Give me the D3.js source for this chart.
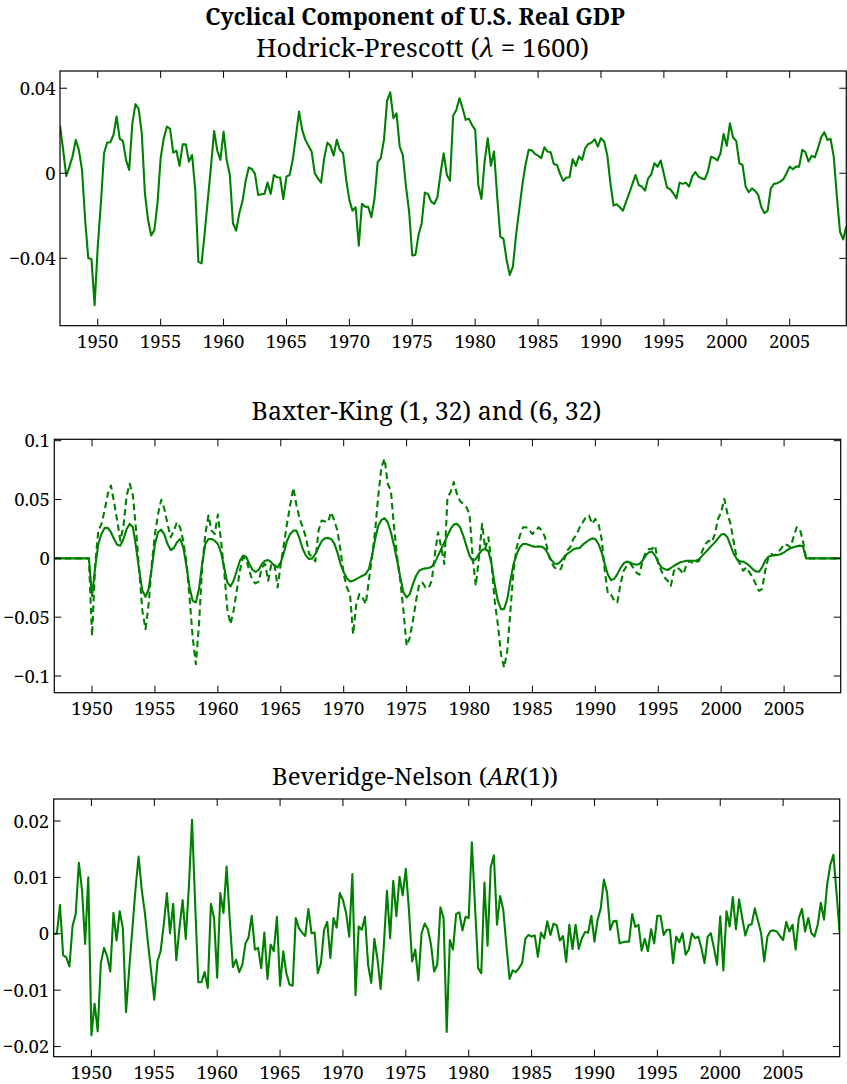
<!DOCTYPE html>
<html><head><meta charset="utf-8">
<script src="https://cdn.jsdelivr.net/npm/d3@7"></script>
<style>body{margin:0;background:#fff}svg{display:block}</style>
</head><body><svg id="chart" width="847" height="1084"></svg>
<script>
// ---------------- DATA (quarterly, 1947Q1 .. 2009Q3) ----------------
const firstYear = 1947;
const hpCycle = [
 0.0224,0.011,-0.0013,0.0031, 0.008,0.0157,0.011,0.0016, -0.022,-0.040,-0.0403,-0.062,
 -0.0345,-0.0141,0.0094,0.0144, 0.0146,0.018,0.0267,0.0162, 0.0152,0.0063,0.0016,0.0235,
 0.0325,0.0303,0.0188,-0.0094, -0.022,-0.0293,-0.0267,-0.0141, 0.0071,0.0165,0.022,0.0209,
 0.0097,0.0107,0.0035,0.0136, 0.0136,0.0055,0.0086,-0.0078, -0.0417,-0.0424,-0.0282,-0.0125,
 0.0031,0.0199,0.0107,0.0063, 0.0196,0.0063,-0.0008,-0.0235, -0.027,-0.0188,-0.0133,-0.0039,
 0.0027,0.002,-0.0003,-0.0102, -0.0099,-0.0097,-0.0044,-0.0097, -0.0008,-0.0019,-0.002,-0.0122,
 -0.0016,-0.0008,0.0063,0.0173, 0.029,0.0204,0.0157,0.0129, 0.0102,0,-0.0024,-0.0044,
 0.0071,0.0144,0.0129,0.0083, 0.0157,0.011,0.0094,-0.0031, -0.0125,-0.0176,-0.016,-0.034,
 -0.0144,-0.0157,-0.0158,-0.0207, -0.0118,0.0052,0.0071,0.0157, 0.0342,0.0381,0.0259,0.0282,
 0.0125,0.0086,-0.0063,-0.018, -0.0387,-0.0384,-0.029,-0.0235, -0.0091,-0.0097,-0.0133,-0.0144,
 -0.0113,0,0.0094,-0.0008, -0.0035,0.0271,0.0298,0.0353, 0.0306,0.0251,0.0257,0.0227,
 0.0204,-0.0055,-0.0121,0.0055, 0.0165,0.0035,0.0102,-0.011, -0.0298,-0.0309,-0.0408,-0.0478,
 -0.0439,-0.029,-0.0173,-0.0055, 0.0039,0.011,0.0108,0.0091, 0.0083,0.0071,0.0122,0.0102,
 0.0099,0.0044,0.0039,-0.0003, -0.0036,-0.002,-0.0019,0.0066, 0.0035,0.008,0.0063,0.0118,
 0.0138,0.0144,0.016,0.0125, 0.0165,0.0149,0.0086,-0.0047, -0.0152,-0.0146,-0.016,-0.0176,
 -0.0133,-0.0094,-0.005,-0.0008, -0.0055,-0.0063,-0.0082,-0.0024, -0.0005,0.0047,0.0031,0.006,
 -0.0003,-0.0067,-0.0075,-0.0094, -0.0118,-0.0044,-0.005,-0.0044, -0.0063,-0.0016,0.0006,-0.0016,
 -0.0024,-0.0028,0.0008,0.0078, 0.0072,0.006,0.0094,0.0185, 0.0129,0.0235,0.0168,0.0152,
 0.0047,0.0039,-0.0063,-0.0089, -0.0071,-0.0083,-0.0102,-0.016, -0.0188,-0.0176,-0.0071,-0.005,
 -0.0047,-0.0039,-0.0028,0, 0.0031,0.0019,0.0031,0.0031, 0.011,0.0099,0.0055,0.0082,
 0.0075,0.0118,0.0169,0.0193, 0.0157,0.0162,0.0078,-0.011, -0.0275,-0.0311,-0.0251
];
const bk632 = [
 0,0,0,0, 0,0,0,0, 0,0,0,0,
 -0.032,-0.0077,0.0122,0.0207, 0.0259,0.0259,0.0222,0.0165, 0.0116,0.0108,0.0165,0.025,
 0.0293,0.0264,0.0094,-0.0105, -0.0276,-0.0327,-0.0261,-0.0077, 0.0122,0.0222,0.0244,0.0202,
 0.0122,0.0071,0.0088,0.0136, 0.0165,0.0094,-0.0063,-0.0247, -0.0361,-0.0375,-0.0261,-0.0048,
 0.0122,0.0165,0.0165,0.015, 0.0122,0.0051,-0.0077,-0.0205, -0.0239,-0.019,-0.0105,-0.002,
 0.0023,0.0014,-0.0048,-0.0097, -0.0116,-0.0097,-0.0048,-0.002, -0.0014,-0.0034,-0.0063,-0.0077,
 -0.0034,0.0051,0.015,0.0207, 0.0236,0.0236,0.0165,0.008, 0.0023,-0.0006,0,0.0037,
 0.0094,0.0145,0.017,0.0173, 0.0165,0.0128,0.0051,-0.0048, -0.0119,-0.017,-0.0196,-0.019,
 -0.0176,-0.0162,-0.0148,-0.0134, -0.0091,0.0023,0.0165,0.0278, 0.0327,0.0341,0.0307,0.0222,
 0.0108,-0.002,-0.0162,-0.029, -0.0332,-0.0304,-0.0219,-0.0148, -0.0105,-0.0091,-0.0085,-0.0082,
 -0.0071,-0.0034,0.0023,0.008, 0.0136,0.0193,0.025,0.0287, 0.0293,0.0264,0.0193,0.0108,
 0.0023,-0.002,-0.0006,0.0037, 0.0071,0.008,0.006,-0.0048, -0.0219,-0.0361,-0.0432,-0.0432,
 -0.0347,-0.019,-0.0048,0.0037, 0.0094,0.0122,0.0122,0.0114, 0.0102,0.0099,0.0102,0.0099,
 0.008,0.0037,-0.0014,-0.0043, -0.0048,-0.0026,0.0009,0.0037, 0.0055,0.0075,0.0085,0.0088,
 0.0116,0.0136,0.0156,0.017, 0.0165,0.0122,0.0051,-0.0048, -0.0139,-0.0185,-0.0176,-0.0134,
 -0.0082,-0.0043,-0.0028,-0.0034, -0.0048,-0.0054,-0.0048,-0.002, 0.0023,0.0051,0.0057,0.0023,
 -0.0034,-0.0077,-0.0091,-0.0099, -0.0082,-0.0063,-0.0048,-0.0034, -0.0026,-0.002,-0.002,-0.002,
 -0.002,-0.0006,0.0023,0.0051, 0.008,0.0108,0.0136,0.017, 0.0202,0.0207,0.0179,0.0108,
 0.0037,-0.0006,-0.0026,-0.0028, -0.0043,-0.0063,-0.0091,-0.0111, -0.0114,-0.0077,-0.002,0.0014,
 0.0023,0.0028,0.0028,0.0037, 0.0051,0.0071,0.0085,0.0094, 0.0102,0.0108,0.0102,0,
 0,0,0,0, 0,0,0,0, 0,0,0
];
const bk132 = [
 0,0,0,0, 0,0,0,0, 0,0,0,0,
 -0.066,-0.0048,0.0236,0.0293, 0.0406,0.0548,0.0619,0.0477, 0.0321,0.015,0.0278,0.0534,
 0.0634,0.0534,0.0236,-0.0105, -0.0446,-0.0602,-0.0389,-0.0048, 0.0207,0.0378,0.0497,0.042,
 0.0293,0.0179,0.0236,0.0307, 0.0264,0.015,-0.0034,-0.0332, -0.0673,-0.09,-0.0559,-0.0077,
 0.0207,0.0364,0.0236,0.0207, 0.0372,0.015,-0.0105,-0.0432, -0.0559,-0.0446,-0.0276,-0.0105,
 0.0009,-0.0006,-0.0105,-0.019, -0.0213,-0.0196,-0.0077,-0.0048, -0.019,-0.0048,-0.0048,-0.0247,
 -0.0048,0.012,0.030,0.045, 0.060,0.0449,0.0335,0.0264, 0.0179,0.0037,0.0009,-0.0026,
 0.0236,0.0321,0.0315,0.0307, 0.0392,0.0321,0.0236,0.0065, -0.0134,-0.0247,-0.0304,-0.0645,
 -0.0389,-0.0304,-0.0332,-0.0389, -0.019,0.0009,0.0236,0.0534, 0.0776,0.0847,0.0634,0.0577,
 0.0264,0.0009,-0.019,-0.0446, -0.0744,-0.0673,-0.0531,-0.0361, -0.0219,-0.0205,-0.0247,-0.0253,
 -0.019,0.0037,0.0222,0.0094, -0.0048,0.052,0.0563,0.0648, 0.0548,0.0486,0.0463,0.0435,
 0.0378,0.0009,-0.0233,0.0009, 0.0293,0.008,0.0179,-0.0048, -0.0361,-0.0559,-0.0815,-0.0929,
 -0.0787,-0.0446,-0.0105,0.0094, 0.0193,0.0264,0.0264,0.0241, 0.0207,0.0236,0.0264,0.0236,
 0.0179,0.0037,-0.0034,-0.0077, -0.0099,-0.0091,-0.002,0.0065, 0.0094,0.0165,0.020,0.0264,
 0.0307,0.035,0.0364,0.0293, 0.0335,0.0293,0.0165,-0.0105, -0.0304,-0.031,-0.0361,-0.0375,
 -0.0219,-0.0105,-0.0063,-0.0043, -0.0077,-0.0119,-0.0139,-0.002, 0.0051,0.008,0.008,0.0108,
 -0.0048,-0.0105,-0.0162,-0.019, -0.0233,-0.0105,-0.0077,-0.0099, -0.0134,-0.0048,-0.002,-0.0043,
 -0.0034,-0.002,0.0065,0.0122, 0.015,0.0136,0.0207,0.0335, 0.0392,0.0506,0.0378,0.0293,
 0.0136,-0.0006,-0.0048,-0.0105, -0.0077,-0.0119,-0.0162,-0.0219, -0.0276,-0.0261,-0.0105,0.0009,
 0.0037,0.0023,0.0051,0.008, 0.0122,0.0114,0.0094,0.0179, 0.0264,0.025,0.015,0,
 0,0,0,0, 0,0,0,0, 0,0,0
];
const bnCycle = [
 0,0,0.0051,-0.0038, -0.0042,-0.0058,0.0014,0.0035, 0.0126,0.0078,-0.0018,0.01,
 -0.018,-0.0124,-0.0173,-0.0052, -0.0025,-0.004,-0.0067,0.0037, -0.0012,0.004,0.001,-0.0139,
 -0.0064,0.0007,0.0078,0.0137, 0.0078,0.0037,-0.0017,-0.0067, -0.0117,-0.0049,-0.0031,0.0016,
 0.0072,0.0001,0.0053,-0.0047, 0.001,0.006,-0.0009,0.0084, 0.0202,0.0051,-0.0086,-0.0086,
 -0.0068,-0.0096,0.0053,0.0028, -0.0078,0.0072,0.0037,0.0119, 0.0025,-0.0059,-0.0046,-0.0068,
 -0.0055,-0.0017,-0.0006,0.0032, -0.0028,-0.0025,-0.0061,0.0002, -0.008,-0.0019,-0.0031,0.003,
 -0.0092,-0.0031,-0.007,-0.009, -0.0092,0.0028,0.001,0.0002, -0.0004,0.0044,0.0001,0.0002,
 -0.007,-0.0052,0.0007,0.0021, -0.0043,0.0028,0.0011,0.0072, 0.006,0.0037,-0.0005,0.0106,
 -0.0109,0.0013,0.0007,0.003, -0.0055,-0.0087,-0.0009,-0.0046, -0.0098,-0.0022,0.0076,-0.0008,
 0.0094,0.0031,0.0101,0.0068, 0.0115,0.0041,-0.0049,-0.0028, -0.0083,0.0001,0.0018,0.0008,
 -0.0019,-0.0067,-0.0055,0.0047, 0.0028,-0.0174,-0.0011,-0.0028, 0.0035,0.0038,0.0006,0.003,
 0.0028,0.0162,0.005,-0.0061, -0.007,0.0091,-0.0021,0.0118, 0.0139,0.0016,0.0067,0.0042,
 -0.0022,-0.008,-0.0065,-0.0068, -0.0061,-0.0052,-0.0009,-0.0002, -0.0005,-0.0003,-0.0041,0.0002,
 -0.0008,0.0022,-0.0002,0.0018, 0.0015,-0.0012,-0.0004,-0.005, 0.0016,-0.0027,0.0016,-0.0027,
 -0.0008,0.0003,0.0002,0.0032, -0.0014,0.0025,0.0045,0.0096, 0.0073,0.0007,0.0022,0.0023,
 -0.0017,-0.0015,-0.0014,-0.0014, 0.0035,0.0012,0.0016,-0.003, -0.0009,-0.0031,0.0008,-0.0017,
 0.0032,0.0032,-0.0002,0.0007, 0.0007,-0.0052,-0.0005,-0.0015, 0.0001,-0.0037,-0.0028,0.0001,
 -0.0008,-0.0005,-0.0025,-0.0052, -0.0005,0.0001,-0.0025,-0.0055, 0.0031,-0.0065,0.004,0.0013,
 0.0065,0.0008,0.0061,0.0028, -0.0003,0.0015,0.0017,0.0045, 0.0023,0.0001,-0.0049,-0.0005,
 0.0005,0.0006,0.0004,-0.0004, -0.0011,0.0021,0.0004,0.0016, -0.0028,0.0028,0.0044,0.0004,
 0.0028,0.0001,-0.0005,0.0016, 0.0055,0.0025,0.0087,0.0122, 0.014,0.0072,0.0001
];
const xTickYears = [1950,1955,1960,1965,1970,1975,1980,1985,1990,1995,2000,2005];
const hpTicks = [-0.04,0,0.04];
const hpTickLabels = ["\u22120.04","0","0.04"];
const bkTicks = [-0.1,-0.05,0,0.05,0.1];
const bkTickLabels = ["\u22120.1","\u22120.05","0","0.05","0.1"];
const bnTicks = [-0.02,-0.01,0,0.01,0.02];
const bnTickLabels = ["\u22120.02","\u22120.01","0","0.01","0.02"];

// ---------------- DRAWING ----------------
const FONT = "'Noto Serif', 'Liberation Serif', 'DejaVu Serif', serif";
const svg = d3.select("#chart").attr("font-family", FONT);
const GREEN = "#008000";
const toPoints = arr => arr.map((v,i)=>[firstYear + i/4, v]);

function panel(cfg, idx){
  const x = d3.scaleLinear().domain([1947, 2009.5]).range([cfg.left, cfg.right]);
  const y = d3.scaleLinear().domain(cfg.yDomain).range([cfg.bottom, cfg.top]);
  const g = svg.append("g");
  const clipId = "clip"+idx;
  svg.append("clipPath").attr("id",clipId).append("rect")
     .attr("x",cfg.left).attr("y",cfg.top).attr("width",cfg.right-cfg.left).attr("height",cfg.bottom-cfg.top);
  const line = d3.line().x(d=>x(d[0])).y(d=>y(d[1]));
  cfg.series.forEach(s=>{
    g.append("path").attr("clip-path",`url(#${clipId})`)
     .attr("d", line(toPoints(s.values)))
     .attr("fill","none").attr("stroke",GREEN).attr("stroke-width",2.1)
     .attr("stroke-linejoin","round")
     .attr("stroke-dasharray", s.dashed ? "6.5,4" : null);
  });
  g.append("rect").attr("x",cfg.left).attr("y",cfg.top)
   .attr("width",cfg.right-cfg.left).attr("height",cfg.bottom-cfg.top)
   .attr("fill","none").attr("stroke","#000").attr("stroke-width",1.2);
  const T = 7;
  xTickYears.forEach(yr=>{
    const px = x(yr);
    g.append("line").attr("x1",px).attr("x2",px).attr("y1",cfg.bottom).attr("y2",cfg.bottom-T).attr("stroke","#000").attr("stroke-width",1);
    g.append("line").attr("x1",px).attr("x2",px).attr("y1",cfg.top).attr("y2",cfg.top+T).attr("stroke","#000").attr("stroke-width",1);
    g.append("text").attr("x",px).attr("y",cfg.bottom+22).attr("text-anchor","middle")
     .attr("font-family",FONT).attr("font-size",18.5).attr("fill","#000").text(yr);
  });
  cfg.yTicks.forEach((v,i)=>{
    const py = y(v);
    g.append("line").attr("x1",cfg.left).attr("x2",cfg.left+T).attr("y1",py).attr("y2",py).attr("stroke","#000").attr("stroke-width",1);
    g.append("line").attr("x1",cfg.right).attr("x2",cfg.right-T).attr("y1",py).attr("y2",py).attr("stroke","#000").attr("stroke-width",1);
    g.append("text").attr("x",cfg.left-4.5).attr("y",py).attr("dy","0.36em").attr("text-anchor","end")
     .attr("font-family",FONT).attr("font-size",18.5).attr("fill","#000").text(cfg.yTickLabels[i]);
  });
}

panel({left:60, right:846.3, top:71, bottom:325.7, yDomain:[-0.0717,0.0481],
       yTicks:hpTicks, yTickLabels:hpTickLabels, series:[{values:hpCycle}]}, 1);
panel({left:54.3, right:840.7, top:439.3, bottom:692.7, yDomain:[-0.1142,0.1012],
       yTicks:bkTicks, yTickLabels:bkTickLabels, series:[{values:bk132, dashed:true},{values:bk632}]}, 2);
panel({left:53.7, right:839.7, top:799, bottom:1056.7, yDomain:[-0.0218,0.0239],
       yTicks:bnTicks, yTickLabels:bnTickLabels, series:[{values:bnCycle}]}, 3);

function title(parts, cx, baseline, targetW, bold){
  const t = svg.append("text").attr("x",cx).attr("y",baseline).attr("text-anchor","middle")
    .attr("font-family",FONT).attr("fill","#000")
    .attr("font-size",21).attr("font-weight", bold ? "bold" : "normal");
  parts.forEach(p=>{
    t.append("tspan").attr("font-family",FONT).attr("font-style", p.it ? "italic" : "normal").text(p.t);
  });
  const w = t.node().getComputedTextLength();
  t.attr("font-size", 21*targetW/w);
}
title([{t:"Cyclical Component of U.S. Real GDP"}], 415, 24.5, 420, true);
title([{t:"Hodrick-Prescott ("},{t:"\u03bb",it:true},{t:" = 1600)"}], 422.5, 56.5, 333);
title([{t:"Baxter-King (1, 32) and (6, 32)"}], 426.5, 420, 350);
title([{t:"Beveridge-Nelson ("},{t:"AR",it:true},{t:"(1))"}], 415, 785, 286);
</script></body></html>
